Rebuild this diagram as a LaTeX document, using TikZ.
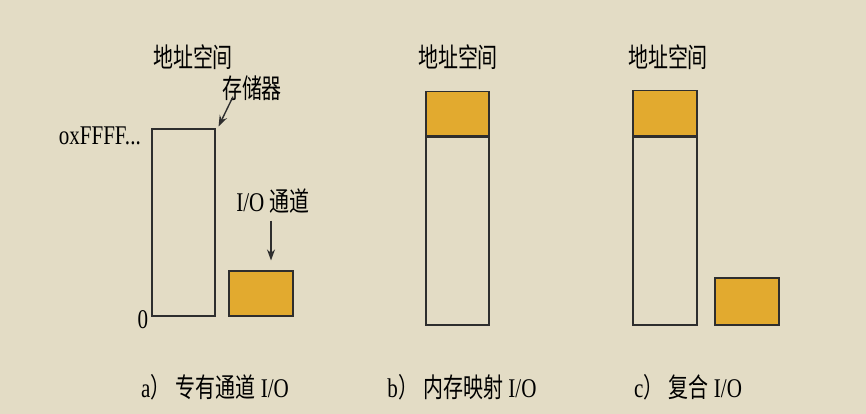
\documentclass[tikz,border=0pt]{standalone}
\usepackage{fontspec}
\setmainfont[FakeStretch=0.78]{Liberation Serif}
\newfontfamily\cjk[FakeStretch=0.74]{Noto Sans CJK SC}
\usetikzlibrary{arrows.meta}
\definecolor{paper}{HTML}{E3DCC5}
\definecolor{iogold}{HTML}{E2AA2F}
\definecolor{edge}{HTML}{2E2E2E}
\tikzset{
  membox/.style={draw=edge, line width=1.1pt, inner sep=0pt, minimum width=63pt},
  iobox/.style={membox, fill=iogold},
  lbl/.style={font=\fontsize{27}{31}\selectfont, inner sep=1pt},
  ptr/.style={-{Stealth[length=11pt,width=8pt]}, line width=1.4pt, draw=edge}
}
\begin{document}
\begin{tikzpicture}[x=1pt,y=-1pt]
            \fill[paper] (0,0) rectangle (866,414);

            % a) dedicated I/O
            \node[membox, minimum height=187pt] (mema) at (183.5,222.5) {};
            \node[iobox, minimum width=64pt, minimum height=45pt] (ioa) at (261,293.5) {};
            \node[lbl] (spacea) at (193,57) {\cjk 地址空间};
            \node[lbl] (lblmem) at (252,88) {\cjk 存储器};
            \node[lbl, anchor=east] (lbltop) at (142,136) {oxFFFF...};
            \node[lbl] (lblzero) at (143,320) {0};
            \node[lbl] (lblio) at (273,201) {I/O {\cjk 通道}};
            \node[lbl] (capa) at (215,387) {a{\cjk ）} {\cjk 专有通道} I/O};

            \draw[ptr] ([xshift=-19pt,yshift=5pt]lblmem.south) -- ([shift={(3pt,2pt)}]mema.north east);
            \draw[ptr] ([xshift=-2pt,yshift=-6pt]lblio.south) -- ([xshift=10pt,yshift=10pt]ioa.north);

            % b) memory mapped I/O
            \node[membox, minimum height=188pt] (memb) at (457.5,231) {};
            \node[iobox, minimum height=44pt, anchor=south] (iob) at (memb.north) {};
            \node[lbl] (spaceb) at (458,57) {\cjk 地址空间};
            \node[lbl] (capb) at (462,387) {b{\cjk ）} {\cjk 内存映射} I/O};

            % c) hybrid
            \node[membox, minimum width=64pt, minimum height=188pt] (memc) at (665,231) {};
            \node[iobox, minimum width=64pt, minimum height=45pt, anchor=south] (ioc) at (memc.north) {};
            \node[iobox, minimum width=64pt, minimum height=47pt] (ioc2) at (747,301.5) {};
            \node[lbl] (spacec) at (668,57) {\cjk 地址空间};
            \node[lbl] (capc) at (688,387) {c{\cjk ）} {\cjk 复合} I/O};
\end{tikzpicture}
\end{document}
